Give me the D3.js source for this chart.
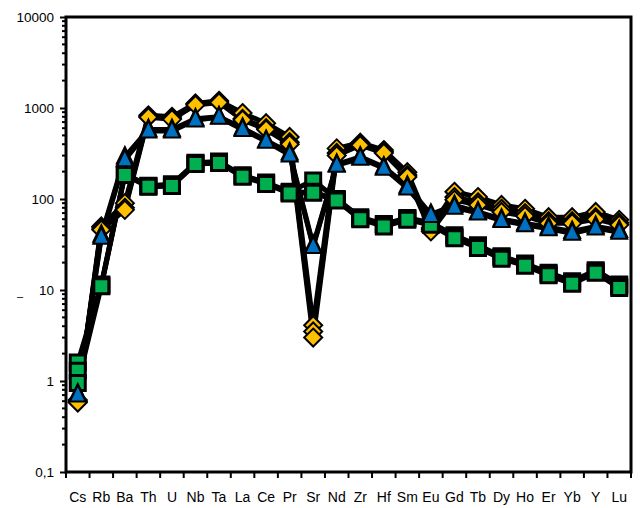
<!DOCTYPE html>
<html>
<head>
<meta charset="utf-8">
<script src="https://cdn.jsdelivr.net/npm/d3@7"></script>
<style>
  body { margin: 0; background: #fff; }
  text { font-family: "Liberation Sans", Arial, sans-serif; fill: #000; }
</style>
</head>
<body>
<div id="graph"></div>
<script>
// chart size and plot box - change these up here
var width = 640,
    height = 508,
    plotLeft = 66, plotRight = 631, plotTop = 17, plotBottom = 472;

// elements along the x axis
var elements = ["Cs","Rb","Ba","Th","U","Nb","Ta","La","Ce","Pr","Sr","Nd","Zr","Hf","Sm","Eu","Gd","Tb","Dy","Ho","Er","Yb","Y","Lu"];

// y tick labels (comma decimal)
var yTicks = [0.1, 1, 10, 100, 1000, 10000];
var yTickLabels = ["0,1", "1", "10", "100", "1000", "10000"];

// yellow diamond samples
var yellowA = [0.62, 50, 90, 830, 800, 1120, 1200, 880, 680, 480, 4.1, 360, 415, 345, 197, 48, 120, 105, 86, 78, 63, 63, 72, 59];
var yellowB = [0.6, 48, 80, 810, 770, 1100, 1170, 760, 600, 420, 3.5, 320, 400, 330, 183, 46, 105, 92, 78, 70, 57, 57, 63, 55];
var yellowC = [0.58, 46, 76, 790, 750, 1080, 1150, 740, 580, 400, 3.0, 300, 390, 320, 175, 44, 98, 86, 72, 65, 54, 54, 60, 52];

// green square samples
var greenA = [1.6, 11.5, 190, 140, 145, 250, 258, 182, 152, 120, 160, 100, 63, 53, 62, 55, 40, 31, 23.5, 19.5, 15.5, 12.5, 16.5, 11.5];
var greenB = [1.3, 11.2, 187, 138, 142, 246, 253, 179, 149, 117, 120, 98, 61, 52, 61, 54, 38, 30, 23, 19, 15, 12, 16, 11];
var greenC = [0.95, 11, 184, 136, 139, 242, 248, 176, 146, 115, 117, 96, 60, 50, 59, 52, 37, 29, 22, 18.5, 14.5, 11.7, 15.5, 10.5];

// blue triangle samples
var blueA = [0.72, 40, 290, 580, 580, 760, 800, 600, 440, 320, 31, 240, 290, 225, 138, 68, 85, 72, 60, 54, 49, 44, 50, 45];
var blueB = [0.7, 38, 270, 560, 560, 740, 790, 580, 430, 305, 30, 235, 280, 218, 132, 66, 81, 70, 58, 52, 47, 42, 48, 43];

var series = [
    {vals: yellowA, color: "#FFC000", shape: "diamond"},
    {vals: yellowB, color: "#FFC000", shape: "diamond"},
    {vals: yellowC, color: "#FFC000", shape: "diamond"},
    {vals: greenA, color: "#00B050", shape: "square"},
    {vals: greenB, color: "#00B050", shape: "square"},
    {vals: greenC, color: "#00B050", shape: "square"},
    {vals: blueA, color: "#0070C0", shape: "triangle"},
    {vals: blueB, color: "#0070C0", shape: "triangle"}
];

var x = d3.scaleBand().domain(elements).range([plotLeft, plotRight]);
var y = d3.scaleLog().domain([0.1, 10000]).range([plotBottom, plotTop]);
function cx(i) { return x(elements[i]) + x.bandwidth() / 2; }

var svg = d3.select("#graph")
  .append("svg")
    .attr("width", width)
    .attr("height", height);

// minor + major ticks on the left
var minor = [];
for (var e = -1; e < 4; e++) {
    for (var m = 2; m < 10; m++) minor.push(m * Math.pow(10, e));
}
svg.append("g").selectAll("line")
    .data(minor)
    .enter()
    .append("line")
    .attr("x1", plotLeft - 4).attr("x2", plotLeft)
    .attr("y1", function(d) { return y(d); })
    .attr("y2", function(d) { return y(d); })
    .attr("stroke", "#000").attr("stroke-width", 2);

var yAxis = d3.axisLeft(y)
    .tickValues(yTicks)
    .tickSize(6)
    .tickPadding(6)
    .tickFormat(function(d, i) { return yTickLabels[i]; });
var gy = svg.append("g").attr("transform", "translate(" + plotLeft + ",0)").call(yAxis);
gy.select(".domain").remove();
gy.selectAll("line").attr("stroke", "#000").attr("stroke-width", 2);
gy.selectAll("text").attr("font-size", 13.5).attr("font-family", "Liberation Sans, Arial, sans-serif");

// bottom ticks at band edges
var edges = elements.map(function(d) { return x(d); }).concat([plotRight]);
svg.append("g").selectAll("line")
    .data(edges)
    .enter()
    .append("line")
    .attr("x1", function(d) { return d; })
    .attr("x2", function(d) { return d; })
    .attr("y1", plotBottom).attr("y2", plotBottom + 6)
    .attr("stroke", "#000").attr("stroke-width", 2);

svg.append("g").selectAll("text")
    .data(elements)
    .enter()
    .append("text")
    .attr("x", function(d) { return x(d) + x.bandwidth() / 2; })
    .attr("y", 502)
    .attr("text-anchor", "middle")
    .attr("font-size", 14)
    .attr("font-family", "Liberation Sans Narrow, Arial Narrow, sans-serif")
    .text(function(d) { return d; });

// leftover axis title mark
svg.append("text")
    .attr("x", 20).attr("y", 300)
    .attr("text-anchor", "middle")
    .attr("font-size", 11)
    .attr("fill", "#666")
    .text("–");

// lines
var line = d3.line()
    .x(function(d, i) { return cx(i); })
    .y(function(d) { return y(d); });

svg.append("g").selectAll("path")
    .data(series)
    .enter()
    .append("path")
    .attr("d", function(s) { return line(s.vals); })
    .attr("fill", "none")
    .attr("stroke", "#000")
    .attr("stroke-width", 5)
    .attr("stroke-linejoin", "round");

// markers
function markerPath(shape) {
    if (shape == "diamond") return "M0,-9L9,0L0,9L-9,0Z";
    if (shape == "square") return "M-7.5,-7.5L7.5,-7.5L7.5,7.5L-7.5,7.5Z";
    return "M0,-10L8,6.5L-8,6.5Z";
}
series.forEach(function(s) {
    svg.append("g").selectAll("path")
        .data(s.vals)
        .enter()
        .append("path")
        .attr("transform", function(d, i) { return "translate(" + cx(i) + "," + y(d) + ")"; })
        .attr("d", markerPath(s.shape))
        .attr("fill", s.color)
        .attr("stroke", "#000")
        .attr("stroke-width", s.shape == "square" ? 3 : 2)
        .attr("stroke-linejoin", "miter");
});

// plot box
svg.append("rect")
    .attr("x", plotLeft).attr("y", plotTop)
    .attr("width", plotRight - plotLeft).attr("height", plotBottom - plotTop)
    .attr("fill", "none")
    .attr("stroke", "#000")
    .attr("stroke-width", 3);
</script>
</body>
</html>
